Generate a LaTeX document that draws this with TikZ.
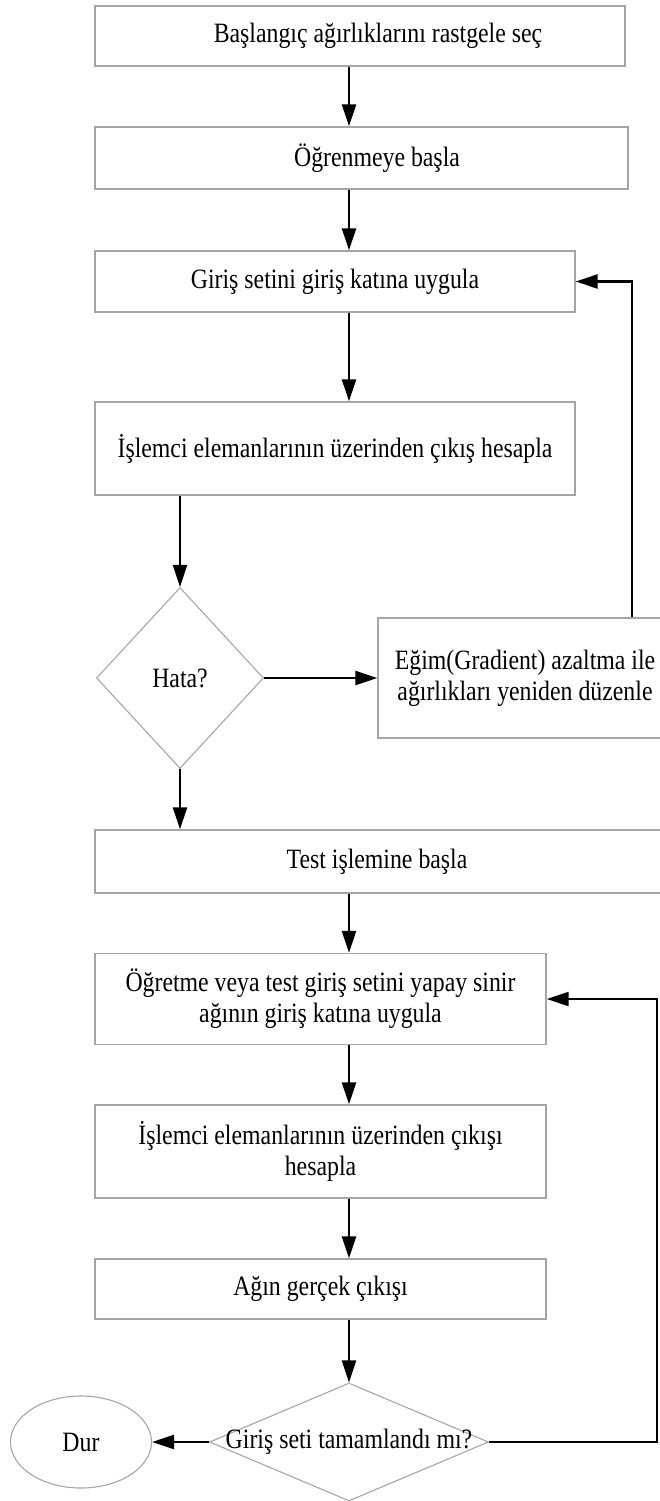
\documentclass[tikz,border=0pt]{standalone}
\usepackage{fontspec}
\setmainfont{Liberation Serif}[FakeStretch=0.85]
\usetikzlibrary{shapes.geometric,arrows.meta,calc}
\definecolor{edgegray}{RGB}{165,165,165}
\begin{document}
\begin{tikzpicture}[x=1pt,y=-1pt,
  every node/.style={font=\fontsize{28}{31}\selectfont, inner sep=0pt},
  box/.style={draw=edgegray, line width=1.3pt, rectangle, align=center},
  decision/.style={draw=edgegray, line width=1.1pt, diamond, aspect=1},
  term/.style={draw=edgegray, line width=1.1pt, ellipse},
  flow/.style={line width=2.2pt, -{Triangle[length=22pt,width=14pt]}},
]
\useasboundingbox (0,0) rectangle (660,1501);
\clip (0,0) rectangle (660,1501);

% training phase
\node[box, minimum width=530pt, minimum height=60pt,
      label={[xshift=18pt]center:Başlangıç ağırlıklarını rastgele seç}] (b1) at (360,36) {};
\node[box, minimum width=533pt, minimum height=62pt,
      label={[xshift=15.5pt]center:Öğrenmeye başla}] (b2) at (361.5,158) {};
\node[box, minimum width=480pt, minimum height=61pt] (b3) at (335,281.5) {Giriş setini giriş katına uygula};
\node[box, minimum width=480pt, minimum height=93pt] (b4) at (335,448.5) {İşlemci elemanlarının üzerinden çıkış hesapla};
\node[decision, minimum width=167pt, minimum height=181pt,
      label={center:Hata?}] (hata) at (180,678) {};
\node[box, minimum width=294pt, minimum height=120pt] (egim) at (525,678)
      {Eğim(Gradient) azaltma ile\\ağırlıkları yeniden düzenle};

% test phase
\node[box, minimum width=574pt, minimum height=63pt,
      label={[xshift=-5pt]center:Test işlemine başla}] (test) at (382,861.5) {};
\node[box, minimum width=451pt, minimum height=91pt] (ogr) at (320.5,999)
      {Öğretme veya test giriş setini yapay sinir\\ağının giriş katına uygula};
\node[box, minimum width=451pt, minimum height=93pt] (isl) at (320.5,1151.5)
      {İşlemci elemanlarının üzerinden çıkışı\\hesapla};
\node[box, minimum width=451pt, minimum height=60pt] (agin) at (320.5,1289) {Ağın gerçek çıkışı};
\node[decision, minimum width=279pt, minimum height=118pt,
      label={center:Giriş seti tamamlandı mı?}] (tam) at (349,1442) {};
\node[term, minimum width=141pt, minimum height=92pt] (dur) at (81,1442) {Dur};

% connector columns
\coordinate (mx) at (349,0);
\coordinate (lx) at (180,0);
\coordinate (rA) at (632,0);
\coordinate (rB) at (657,0);

\draw[flow] (b1.south -| mx) -- (b2.north -| mx);
\draw[flow] (b2.south -| mx) -- (b3.north -| mx);
\draw[flow] (b3.south -| mx) -- (b4.north -| mx);
\draw[flow] (b4.south -| lx) -- (hata.north);
\draw[flow] (hata.east) -- (egim.west);
\draw[flow] (egim.north -| rA) |- (b3.east);
\draw[flow] (hata.south) -- (test.north -| lx);
\draw[flow] (test.south -| mx) -- (ogr.north -| mx);
\draw[flow] (ogr.south -| mx) -- (isl.north -| mx);
\draw[flow] (isl.south -| mx) -- (agin.north -| mx);
\draw[flow] (agin.south -| mx) -- (tam.north);
\draw[flow] (tam.west) -- (dur.east);
\draw[flow] (tam.east) -| (ogr.east -| rB) -- (ogr.east);
\end{tikzpicture}
\end{document}
